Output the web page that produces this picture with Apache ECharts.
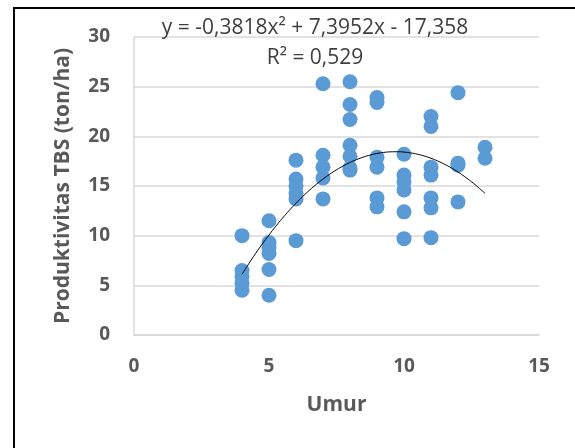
<!DOCTYPE html>
<html>
<head>
<meta charset="utf-8">
<script src="https://cdn.jsdelivr.net/npm/echarts@6/dist/echarts.min.js"></script>
<style>
html, body { margin: 0; padding: 0; background: #fff; }
#chart { width: 575px; height: 448px; }
</style>
</head>
<body>
<div id="chart"></div>
<script>
// umur (tahun) dan produktivitas (ton/ha)
const umur = [
  4, 4, 4, 4, 4,
  5, 5, 5, 5, 5, 5,
  6, 6, 6, 6, 6, 6,
  7, 7, 7, 7, 7,
  8, 8, 8, 8, 8, 8, 8,
  9, 9, 9, 9, 9, 9,
  10, 10, 10, 10, 10, 10,
  11, 11, 11, 11, 11, 11, 11,
  12, 12, 12, 12,
  13, 13
];
const produktivitas = [
  10.0, 6.5, 5.9, 5.2, 4.5,
  11.5, 9.3, 8.8, 8.2, 6.6, 4.0,
  17.6, 15.7, 15.0, 14.3, 13.7, 9.5,
  25.3, 18.1, 16.9, 15.8, 13.7,
  25.5, 23.2, 21.7, 19.1, 18.0, 16.8, 16.6,
  23.9, 23.4, 17.9, 16.9, 13.8, 12.9,
  18.2, 16.1, 15.4, 14.6, 12.4, 9.7,
  22.0, 21.0, 16.9, 16.1, 13.8, 12.8, 9.8,
  24.4, 17.3, 17.1, 13.4,
  18.9, 17.8
];
// koefisien trendline polinomial orde 2 (seperti tertulis di grafik)
const trendCoef = [-0.3818, 7.3952, -17.358];
const trendRange = [4, 13];
const eqText = 'y = -0,3818x² + 7,3952x - 17,358';
const r2Text = 'R² = 0,529';

const font = '"Open Sans", "Liberation Sans", sans-serif';
const labelGrey = '#595959';

const scatterData = umur.map((u, i) => [u, produktivitas[i]]);
const trendData = [];
for (let x = trendRange[0]; x <= trendRange[1] + 1e-9; x += 0.25) {
  trendData.push([x, trendCoef[0] * x * x + trendCoef[1] * x + trendCoef[2]]);
}

const chart = echarts.init(document.getElementById('chart'));
const option = {
  animation: false,
  backgroundColor: '#fff',
  grid: { left: 134, right: 36, top: 37, bottom: 113 },
  xAxis: {
    type: 'value',
    min: 0,
    max: 15,
    interval: 5,
    name: 'Umur',
    nameLocation: 'middle',
    nameGap: 60,
    nameTextStyle: { fontFamily: font, fontWeight: 'bold', fontSize: 21, color: labelGrey },
    axisLine: { show: true, lineStyle: { color: '#d9d9d9', width: 1.5 } },
    axisTick: { show: false },
    axisLabel: { margin: 22, fontFamily: font, fontWeight: 'bold', fontSize: 19, color: labelGrey },
    splitLine: { show: false }
  },
  yAxis: {
    type: 'value',
    min: 0,
    max: 30,
    interval: 5,
    name: 'Produktivitas TBS (ton/ha)',
    nameLocation: 'middle',
    nameGap: 60,
    nameTextStyle: { fontFamily: font, fontWeight: 'bold', fontSize: 21, color: labelGrey },
    axisLine: { show: true, lineStyle: { color: '#d9d9d9', width: 1.5 } },
    axisTick: { show: false },
    axisLabel: { margin: 24, fontFamily: font, fontWeight: 'bold', fontSize: 19, color: labelGrey },
    splitLine: { lineStyle: { color: '#d9d9d9', width: 1.5 } }
  },
  graphic: [
    {
      type: 'rect',
      silent: true,
      z: 100,
      shape: { x: 14, y: 8, width: 700, height: 700 },
      style: { fill: null, stroke: '#000', lineWidth: 2 }
    },
    {
      type: 'text',
      z: 100,
      x: 315,
      y: 28,
      style: {
        text: eqText, fontFamily: font, fontSize: 21, fill: '#404040',
        align: 'center', verticalAlign: 'middle'
      }
    },
    {
      type: 'text',
      z: 100,
      x: 315,
      y: 58,
      style: {
        text: r2Text, fontFamily: font, fontSize: 21, fill: '#404040',
        align: 'center', verticalAlign: 'middle'
      }
    }
  ],
  series: [
    {
      name: 'Produktivitas',
      type: 'scatter',
      symbol: 'circle',
      symbolSize: 15,
      itemStyle: { color: '#5b9bd5', opacity: 1 },
      data: scatterData
    },
    {
      name: 'Poly.',
      type: 'line',
      smooth: true,
      showSymbol: false,
      lineStyle: { color: '#000', width: 1 },
      data: trendData,
      z: 3
    }
  ]
};
chart.setOption(option);
</script>
</body>
</html>
